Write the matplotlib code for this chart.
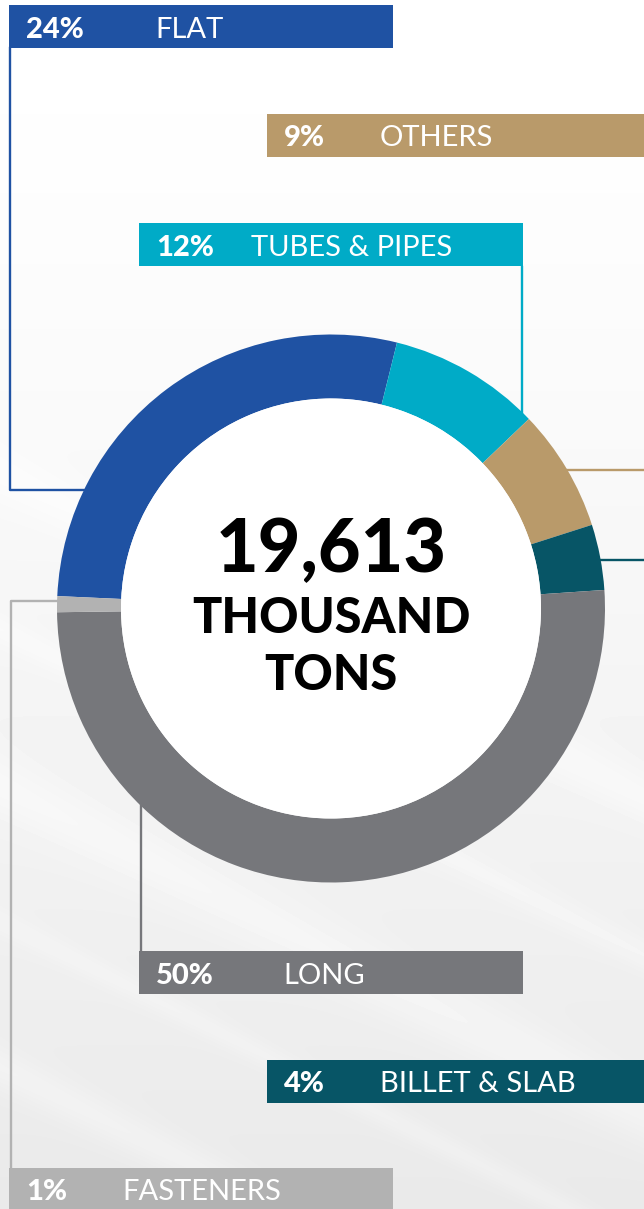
import numpy as np
import matplotlib
matplotlib.use("Agg")
import matplotlib.pyplot as plt
from matplotlib.patches import Rectangle, Circle

# data
categories = ["FLAT", "TUBES & PIPES", "OTHERS", "BILLET & SLAB", "LONG", "FASTENERS"]
pct_labels = ["24%", "12%", "9%", "4%", "50%", "1%"]
# arc shares as drawn in the ring (percent of the circle)
arc_shares = [28.15, 8.97, 7.22, 3.86, 50.86, 0.94]
colors = ["#1F52A3", "#00ABC7", "#B99A6A", "#075566", "#76777B", "#B2B2B2"]
total_value = "19,613"
total_unit = ["THOUSAND", "TONS"]

W, H = 644, 1209
fig = plt.figure(figsize=(W / 100, H / 100), dpi=100)

# background axes in pixel coordinates
ax = fig.add_axes([0, 0, 1, 1])
ax.set_xlim(0, W)
ax.set_ylim(H, 0)
ax.axis("off")

# light grey brushed-metal style background
yy, xx = np.mgrid[0:H, 0:W]
bg = 1.0 - 0.085 * (yy / H) ** 1.3
d = (xx * 0.45 - yy * 0.89)
for off, amp, wdt in [(-420, 0.03, 25), (-560, 0.025, 14), (-700, 0.03, 30), (-820, 0.02, 12), (-950, 0.025, 20)]:
    bg += amp * np.exp(-((d - off) / wdt) ** 2) * (yy / H)
bg = np.clip(bg, 0, 1)
ax.imshow(bg, cmap="gray", vmin=0, vmax=1, extent=[0, W, H, 0], zorder=0, aspect="auto")

# label boxes: (x, y, width, name offset)
boxes = {
    "FLAT": (9, 5, 384, 146),
    "OTHERS": (267, 114, 377, 113),
    "TUBES & PIPES": (139, 223, 384, 112),
    "LONG": (139, 951, 384, 144),
    "BILLET & SLAB": (267, 1060, 377, 113),
    "FASTENERS": (9, 1168, 384, 113),
}
box_h = 43

for cat, pct, col in zip(categories, pct_labels, colors):
    bx, by, bw, noff = boxes[cat]
    ax.add_patch(Rectangle((bx, by), bw, box_h, facecolor=col, edgecolor="none", zorder=3))
    ax.text(bx + 17, by + box_h / 2 + 3, pct, color="white", fontsize=21, fontweight="black",
            family="Lato", va="center", ha="left", zorder=4)
    ax.text(bx + noff, by + box_h / 2 + 3, cat, color="white", fontsize=21, fontweight="normal",
            family="Lato", va="center", ha="left", zorder=4)

# connector lines
lw = 1.7
ax.plot([10, 10, 100], [48, 490, 490], color=colors[0], lw=lw, zorder=2)
ax.plot([522, 522], [267, 420], color=colors[1], lw=lw, zorder=2)
ax.plot([560, 644], [470, 470], color=colors[2], lw=lw, zorder=2)
ax.plot([590, 644], [560, 560], color=colors[3], lw=lw, zorder=2)
ax.plot([141, 141], [790, 951], color=colors[4], lw=lw, zorder=2)
ax.plot([70, 11, 11], [601, 601, 1168], color=colors[5], lw=lw, zorder=2)

# donut
cx, cy, r_out, r_in = 331, 608.5, 274, 210
pax = fig.add_axes([(cx - r_out) / W, (H - cy - r_out) / H, 2 * r_out / W, 2 * r_out / H])
pax.pie(arc_shares, colors=colors, startangle=177.4, counterclock=False,
        wedgeprops=dict(width=(r_out - r_in) / r_out, edgecolor="none", linewidth=0))
pax.add_patch(Circle((0, 0), r_in / r_out, facecolor="white", edgecolor="none", zorder=5))
pax.set_xlim(-1, 1)
pax.set_ylim(-1, 1)
pax.axis("off")

# centre text, on the figure so it sits above the donut axes
for txt, yc, fs in [(total_value, 551, 53), (total_unit[0], 618, 35), (total_unit[1], 675, 35)]:
    fig.text(331 / W, 1 - yc / H, txt, fontsize=fs, fontweight="black", family="Lato",
             ha="center", va="center", color="black", zorder=10)

fig.savefig("out.png", dpi=100)
